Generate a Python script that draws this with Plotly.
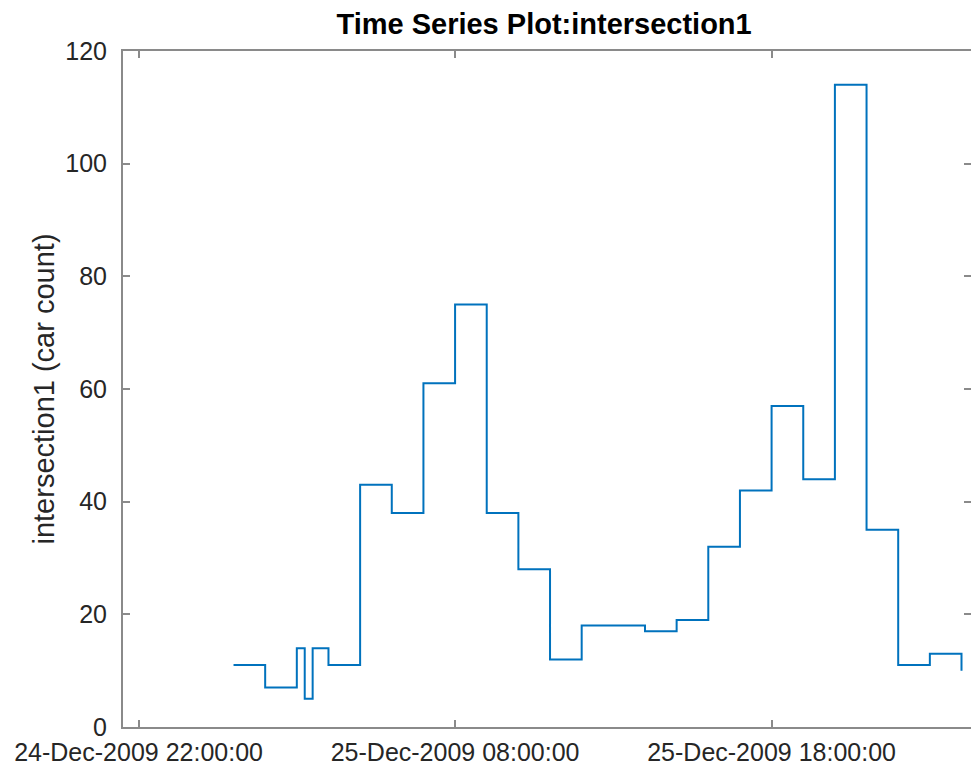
import plotly.graph_objects as go

# sample times (zero-order hold, MATLAB timeseries style) and car counts
times = [
    "2009-12-25 01:00", "2009-12-25 02:00", "2009-12-25 03:00", "2009-12-25 03:15",
    "2009-12-25 03:30", "2009-12-25 04:00", "2009-12-25 05:00", "2009-12-25 06:00",
    "2009-12-25 07:00", "2009-12-25 08:00", "2009-12-25 09:00", "2009-12-25 10:00",
    "2009-12-25 11:00", "2009-12-25 12:00", "2009-12-25 13:00", "2009-12-25 14:00",
    "2009-12-25 15:00", "2009-12-25 16:00", "2009-12-25 17:00", "2009-12-25 18:00",
    "2009-12-25 19:00", "2009-12-25 20:00", "2009-12-25 21:00", "2009-12-25 22:00",
    "2009-12-25 23:00", "2009-12-26 00:00",
]
car_count = [11, 7, 14, 5, 14, 11, 43, 38, 61, 75, 38, 28, 12, 18, 18, 17,
             19, 32, 42, 57, 44, 114, 35, 11, 13, 10]

x_tickvals = ["2009-12-24 22:00", "2009-12-25 08:00", "2009-12-25 18:00"]
x_ticktext = ["24-Dec-2009 22:00:00", "25-Dec-2009 08:00:00", "25-Dec-2009 18:00:00"]
y_tickvals = [0, 20, 40, 60, 80, 100, 120]

axis_grey = "#8a8a8a"
text_grey = "#262626"
font_name = "Liberation Sans, Arial, sans-serif"

fig = go.Figure()
fig.add_trace(go.Scatter(
    x=times, y=car_count, mode="lines", line_shape="hv",
    line=dict(color="#0072BD", width=2), showlegend=False,
))

fig.update_layout(
    width=971, height=765,
    margin=dict(l=123, r=0, t=51, b=38, autoexpand=False),
    paper_bgcolor="white", plot_bgcolor="white",
    font=dict(family=font_name, color=text_grey),
    title=dict(
        text="<b>Time Series Plot:intersection1</b>",
        font=dict(size=29, color="black", family=font_name),
        x=(123 + 971) / 2 / 971 - 0.003, xanchor="center",
        y=1 - 24 / 765, yanchor="middle", yref="container",
    ),
)

fig.update_xaxes(
    range=["2009-12-24 21:30:30", "2009-12-26 00:18:00"],
    tickvals=x_tickvals, ticktext=x_ticktext,
    tickfont=dict(size=25, color=text_grey), ticklabelstandoff=2,
    showgrid=False, zeroline=False, automargin=False,
    showline=True, linecolor=axis_grey, linewidth=2, mirror="ticks",
    ticks="inside", ticklen=7, tickwidth=1.5, tickcolor=axis_grey,
)
fig.update_yaxes(
    range=[0, 120], tickvals=y_tickvals,
    tickfont=dict(size=25, color=text_grey), ticklabelstandoff=9,
    title=dict(text="intersection1 (car count)", font=dict(size=29, color=text_grey), standoff=2),
    showgrid=False, zeroline=False, automargin=False,
    showline=True, linecolor=axis_grey, linewidth=2, mirror="ticks",
    ticks="inside", ticklen=7, tickwidth=1.5, tickcolor=axis_grey,
)

# drop the default 8px body margin so the fixed-size figure fills the window
fig.write_html("out.html", config={"displayModeBar": False},
               post_script="document.body.style.margin='0';")
